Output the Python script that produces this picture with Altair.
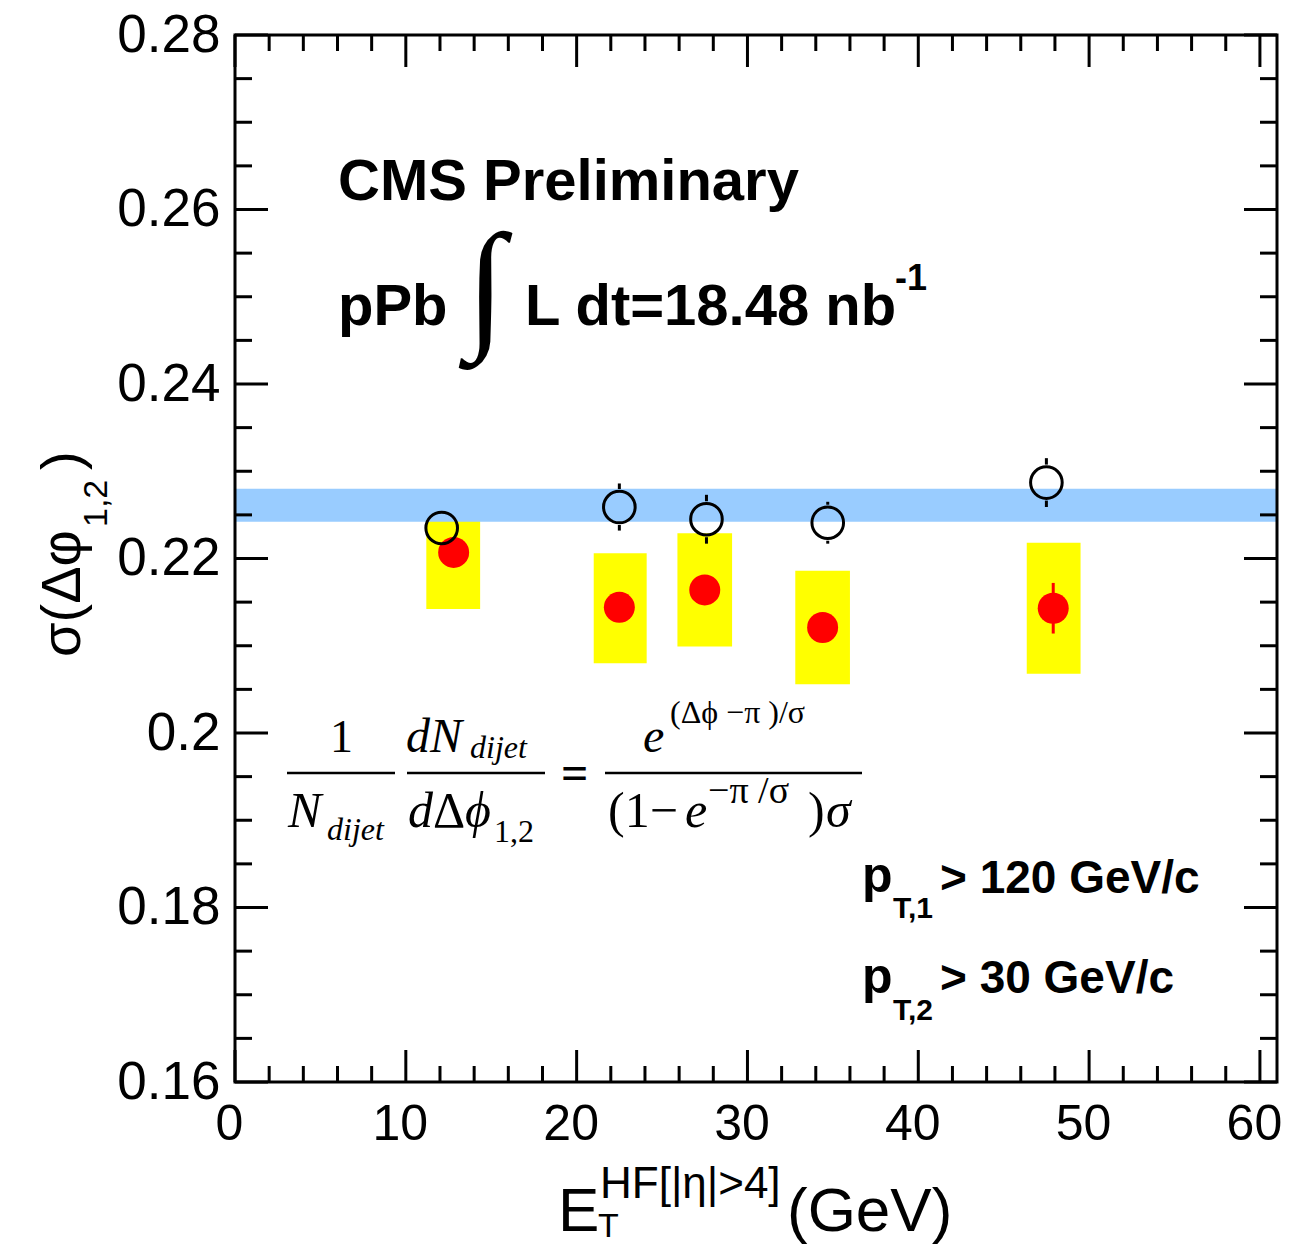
import altair as alt
import pandas as pd

# ---------------- data ----------------
et_open = [12.1, 22.5, 27.6, 34.7, 47.5]
sig_open = [0.2235, 0.2259, 0.2245, 0.2241, 0.2287]
err_open = [0.0016, 0.0027, 0.0028, 0.0024, 0.0028]

et_red = [12.8, 22.5, 27.5, 34.4, 47.9]
sig_red = [0.2207, 0.2144, 0.2164, 0.2121, 0.2143]
err_red = [0.0015, 0.0015, 0.0015, 0.0015, 0.0029]
sys_x_lo = [11.2, 21.0, 25.9, 32.8, 46.35]
sys_x_hi = [14.35, 24.1, 29.1, 36.0, 49.5]
sys_y_lo = [0.2142, 0.2080, 0.2099, 0.2056, 0.2068]
sys_y_hi = [0.2272, 0.2206, 0.2229, 0.2186, 0.2218]

band_y = [0.2242, 0.2280]

x_major = [0, 10, 20, 30, 40, 50, 60]
x_minor = [v for v in range(0, 61, 2) if v % 10 != 0]
y_major = [0.16, 0.18, 0.20, 0.22, 0.24, 0.26, 0.28]
y_minor = [round(0.16 + 0.005 * i, 3) for i in range(25) if i % 4 != 0]

# ---------------- layout ----------------
W, H = 1042, 1047
PX0, PY0 = 235, 35          # page position of the plot's top-left corner
X_DOM = [0, 61]
Y_DOM = [0.16, 0.28]
xs = alt.Scale(domain=X_DOM, nice=False, zero=False)
ys = alt.Scale(domain=Y_DOM, nice=False, zero=False)


def to_data(px, py):
    x = X_DOM[0] + (px - PX0) / W * (X_DOM[1] - X_DOM[0])
    y = Y_DOM[1] - (py - PY0) / H * (Y_DOM[1] - Y_DOM[0])
    return x, y


SANS = "Liberation Sans"
SERIF = "Liberation Serif"

x_axis = alt.Axis(values=x_major, format="d", title=None, ticks=False, tickSize=0,
                  domain=False, grid=False, labelPadding=17, labelFlush=False,
                  labelOffset=-6, labelOverlap=False, labelFontSize=50,
                  labelFont=SANS, labelColor="black")
y_axis = alt.Axis(values=y_major, format=".2~f", title=None, ticks=False, tickSize=0,
                  domain=False, grid=False, labelPadding=15, labelFlush=False,
                  labelOverlap=False, labelFontSize=53, labelFont=SANS, labelColor="black")


def X(f):
    return alt.X(f, type="quantitative", scale=xs, axis=x_axis)


def Y(f):
    return alt.Y(f, type="quantitative", scale=ys, axis=y_axis)


# systematic boxes
sys_df = pd.DataFrame({"x": sys_x_lo, "x2": sys_x_hi, "y": sys_y_lo, "y2": sys_y_hi})
boxes = alt.Chart(sys_df).mark_rect(color="#ffff00").encode(
    x=X("x"), x2="x2:Q", y=Y("y"), y2="y2:Q")

# blue band
band_df = pd.DataFrame({"y": [band_y[0]], "y2": [band_y[1]]})
band = alt.Chart(band_df).mark_rect(color="#99ccff").encode(
    x=alt.value(0), x2=alt.value(W), y=Y("y"), y2="y2:Q")

# red points with error bars
red_df = pd.DataFrame({"x": et_red, "y": sig_red,
                       "lo": [s - e for s, e in zip(sig_red, err_red)],
                       "hi": [s + e for s, e in zip(sig_red, err_red)]})
red_err = alt.Chart(red_df).mark_rule(color="#ff0000", strokeWidth=3).encode(
    x=X("x"), y=Y("lo"), y2="hi:Q")
red_pts = alt.Chart(red_df).mark_circle(color="#ff0000", size=960, opacity=1).encode(
    x=X("x"), y=Y("y"))

# open circles; error bars drawn outside the marker only
r_dat = 18 / H * (Y_DOM[1] - Y_DOM[0])
seg = []
for x, s, e in zip(et_open, sig_open, err_open):
    if e > r_dat:
        seg.append({"x": x, "lo": s - e, "hi": s - r_dat})
        seg.append({"x": x, "lo": s + r_dat, "hi": s + e})
seg_df = pd.DataFrame(seg)
open_err = alt.Chart(seg_df).mark_rule(color="black", strokeWidth=3).encode(
    x=X("x"), y=Y("lo"), y2="hi:Q")
open_df = pd.DataFrame({"x": et_open, "y": sig_open})
open_pts = alt.Chart(open_df).mark_point(shape="circle", filled=False, color="black",
                                         size=1000, strokeWidth=3, opacity=1).encode(
    x=X("x"), y=Y("y"))


# inward ticks on all four sides
def xticks(vals, length, top):
    ya, yb = (0, length) if top else (H, H - length)
    return alt.Chart(pd.DataFrame({"x": vals})).mark_rule(color="black", strokeWidth=3).encode(
        x=X("x"), y=alt.value(ya), y2=alt.value(yb))


def yticks(vals, length, right):
    xa, xb = (W, W - length) if right else (0, length)
    return alt.Chart(pd.DataFrame({"y": vals})).mark_rule(color="black", strokeWidth=3).encode(
        y=Y("y"), x=alt.value(xa), x2=alt.value(xb))


ticks = [xticks(x_major, 32, False), xticks(x_minor, 16, False),
         xticks(x_major, 32, True), xticks(x_minor, 16, True),
         yticks(y_major, 33, False), yticks(y_minor, 17, False),
         yticks(y_major, 33, True), yticks(y_minor, 17, True)]

frame = alt.Chart(pd.DataFrame({"a": [0]})).mark_rect(
    filled=False, stroke="black", strokeWidth=3).encode(
    x=alt.value(0), x2=alt.value(W), y=alt.value(0), y2=alt.value(H))


def text_layer(rows, font, weight="normal", style="normal", angle=0):
    recs = []
    for t, px, py, fs in rows:
        x, y = to_data(px, py)
        recs.append({"t": t, "x": x, "y": y, "fs": fs})
    mk = dict(font=font, fontWeight=weight, fontStyle=style, align="left",
              baseline="alphabetic", color="black")
    if angle:
        mk["angle"] = angle
    return alt.Chart(pd.DataFrame(recs)).mark_text(**mk).encode(
        x=X("x"), y=Y("y"), text="t:N",
        size=alt.Size("fs:Q", scale=None, legend=None))


sans_bold = [
    ("CMS Preliminary", 338, 200, 58),
    ("pPb", 338, 325, 58),
    ("L dt=18.48 nb", 525, 325, 58),
    ("-1", 895, 290, 36),
    ("p", 862, 892, 50),
    ("> 120 GeV/c", 940, 893, 46),
    ("p", 862, 993, 50),
    ("> 30 GeV/c", 940, 993, 46),
    ("T,1", 893, 918, 30),
    ("T,2", 893, 1020, 30),
]
sans_reg = [
    ("E", 558, 1231, 62),
    ("HF[|η|>4]", 600, 1198, 44),
    ("T", 598, 1237, 34),
    ("(GeV)", 787, 1231, 62),
]
sans_rot = [
    ("σ(Δφ", 80, 657, 56),
    ("1,2", 107, 527, 34),
    (")", 80, 470, 56),
]
integral = [("∫", 466, 332, 142)]
serif_it = [
    ("N", 288, 827, 50),
    ("dijet", 327, 840, 32),
    ("dN", 406, 752, 48),
    ("dijet", 470, 758, 32),
    ("d", 408, 827, 50),
    ("ϕ", 465, 827, 50),
    ("e", 643, 752, 48),
    ("e", 685, 827, 50),
    ("σ", 826, 827, 50),
]
serif_reg = [
    ("1", 330, 752, 46),
    ("Δ", 433, 827, 50),
    ("1,2", 494, 842, 32),
    ("(Δϕ −π )/σ", 670, 723, 32),
    ("(1−", 608, 827, 50),
    ("−π /σ", 708, 803, 38),
    (")", 808, 827, 50),
]
serif_bold = [("=", 561, 789, 48)]

bars = []
for x1, x2, yb in [(287, 395, 773), (407, 545, 773), (605, 862, 773)]:
    a, y = to_data(x1, yb)
    b, _ = to_data(x2, yb)
    bars.append({"x": a, "x2": b, "y": y})
frac = alt.Chart(pd.DataFrame(bars)).mark_rule(color="black", strokeWidth=2.5).encode(
    x=X("x"), x2="x2:Q", y=Y("y"))

texts = [
    text_layer(sans_bold, SANS, weight="bold"),
    text_layer(sans_reg, SANS),
    text_layer(sans_rot, SANS, angle=270),
    text_layer(integral, SERIF),
    text_layer(serif_it, SERIF, style="italic"),
    text_layer(serif_reg, SERIF),
    text_layer(serif_bold, SERIF, weight="bold"),
    frac,
]

chart = alt.layer(boxes, band, red_err, red_pts, open_err, open_pts, *ticks, frame, *texts).properties(
    width=W, height=H,
    padding={"left": 227, "top": 27, "right": 5, "bottom": 164},
    autosize=alt.AutoSizeParams(type="none"),
    background="white",
).configure_view(strokeWidth=0)

chart.save("out.html", embed_options={"renderer": "svg", "actions": False})
